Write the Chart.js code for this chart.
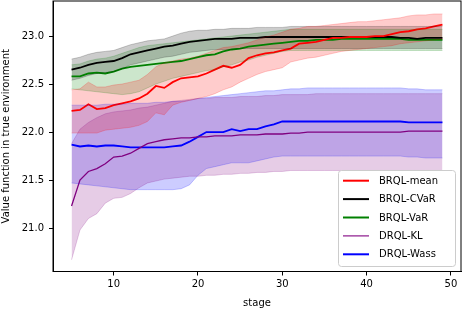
<!DOCTYPE html>
<html>
<head>
<meta charset="utf-8">
<script src="https://cdn.jsdelivr.net/npm/chart.js@4"></script>
<style>
    body { margin: 0; background: #fff; }
    #wrap { width: 462px; height: 310px; position: relative; }
</style>
</head>
<body>
<div id="wrap"><canvas id="chart"></canvas></div>
<script>
// Stages on the x axis
const stages = [5, 6, 7, 8, 9, 10, 11, 12, 13, 14, 15, 16, 17, 18, 19, 20, 21, 22, 23, 24, 25, 26, 27,
    28, 29, 30, 31, 32, 33, 34, 35, 36, 37, 38, 39, 40, 41, 42, 43, 44, 45, 46, 47, 48, 49];

// BRQL-mean
const meanMid = [22.22, 22.23, 22.29, 22.24, 22.25, 22.28, 22.30, 22.32, 22.35, 22.40,
    22.48, 22.46, 22.52, 22.56, 22.57, 22.58, 22.61, 22.65, 22.69, 22.67,
    22.70, 22.77, 22.80, 22.82, 22.83, 22.85, 22.87, 22.92, 22.93, 22.94,
    22.96, 22.98, 22.98, 22.99, 22.99, 22.99, 23.00, 23.00, 23.02, 23.04,
    23.05, 23.07, 23.08, 23.10, 23.12];
const meanHi = [22.44, 22.45, 22.52, 22.47, 22.47, 22.49, 22.50, 22.52, 22.54, 22.60,
    22.68, 22.72, 22.74, 22.76, 22.77, 22.79, 22.82, 22.85, 22.88, 22.89,
    22.91, 22.93, 22.96, 22.99, 23.01, 23.04, 23.07, 23.08, 23.10, 23.10,
    23.11, 23.12, 23.13, 23.14, 23.15, 23.15, 23.16, 23.17, 23.18, 23.19,
    23.21, 23.22, 23.22, 23.23, 23.23];
const meanLo = [21.99, 21.99, 21.99, 21.99, 22.02, 22.03, 22.04, 22.05, 22.07, 22.11,
    22.20, 22.18, 22.28, 22.31, 22.33, 22.35, 22.37, 22.40, 22.44, 22.47,
    22.52, 22.56, 22.60, 22.63, 22.65, 22.67, 22.73, 22.75, 22.77, 22.78,
    22.80, 22.82, 22.84, 22.85, 22.86, 22.87, 22.88, 22.89, 22.90, 22.92,
    22.93, 22.94, 22.95, 22.96, 22.97];

// BRQL-CVaR
const cvarMid = [22.65, 22.67, 22.70, 22.72, 22.73, 22.74, 22.77, 22.81, 22.83, 22.85,
    22.87, 22.89, 22.90, 22.92, 22.94, 22.95, 22.96, 22.97, 22.97, 22.97,
    22.98, 22.98, 22.98, 22.99, 22.99, 22.99, 22.99, 22.99, 22.99, 22.99,
    22.99, 22.99, 22.99, 22.99, 22.99, 22.99, 22.99, 22.99, 22.99, 22.98,
    22.98, 22.97, 22.98, 22.98, 22.98];
const cvarHi = [22.76, 22.78, 22.81, 22.83, 22.84, 22.85, 22.88, 22.91, 22.93, 22.95,
    22.96, 22.97, 23.00, 23.03, 23.05, 23.06, 23.06, 23.07, 23.07, 23.08,
    23.08, 23.08, 23.09, 23.09, 23.09, 23.09, 23.10, 23.10, 23.10, 23.10,
    23.10, 23.10, 23.10, 23.10, 23.10, 23.10, 23.10, 23.10, 23.10, 23.10,
    23.10, 23.10, 23.10, 23.10, 23.10];
const cvarLo = [22.54, 22.56, 22.59, 22.61, 22.62, 22.63, 22.66, 22.70, 22.72, 22.74,
    22.76, 22.78, 22.79, 22.81, 22.83, 22.84, 22.85, 22.86, 22.86, 22.86,
    22.87, 22.87, 22.87, 22.87, 22.87, 22.87, 22.87, 22.87, 22.87, 22.87,
    22.87, 22.87, 22.87, 22.87, 22.87, 22.87, 22.87, 22.87, 22.87, 22.87,
    22.87, 22.87, 22.87, 22.87, 22.87];

// BRQL-VaR
const varMid = [22.58, 22.58, 22.61, 22.62, 22.61, 22.63, 22.66, 22.68, 22.69, 22.70,
    22.71, 22.72, 22.73, 22.74, 22.76, 22.78, 22.80, 22.81, 22.84, 22.86,
    22.87, 22.89, 22.90, 22.91, 22.92, 22.93, 22.94, 22.95, 22.95, 22.96,
    22.96, 22.96, 22.97, 22.97, 22.97, 22.97, 22.97, 22.97, 22.97, 22.97,
    22.96, 22.96, 22.96, 22.96, 22.96];
const varHi = [22.70, 22.71, 22.74, 22.76, 22.77, 22.79, 22.82, 22.85, 22.88, 22.90,
    22.91, 22.92, 22.93, 22.94, 22.95, 22.96, 22.97, 22.98, 22.99, 23.00,
    23.01, 23.02, 23.03, 23.04, 23.05, 23.06, 23.07, 23.07, 23.07, 23.07,
    23.07, 23.07, 23.07, 23.07, 23.07, 23.07, 23.07, 23.07, 23.07, 23.07,
    23.07, 23.07, 23.07, 23.07, 23.07];
const varLo = [22.45, 22.44, 22.43, 22.42, 22.41, 22.40, 22.39, 22.40, 22.42, 22.46,
    22.50, 22.53, 22.56, 22.58, 22.60, 22.62, 22.64, 22.65, 22.68, 22.70,
    22.73, 22.75, 22.78, 22.80, 22.82, 22.84, 22.85, 22.85, 22.85, 22.85,
    22.85, 22.85, 22.85, 22.85, 22.85, 22.85, 22.85, 22.85, 22.85, 22.85,
    22.85, 22.85, 22.85, 22.85, 22.85];

// DRQL-KL
const klMid = [21.23, 21.50, 21.59, 21.62, 21.67, 21.74, 21.75, 21.78, 21.83, 21.88,
    21.90, 21.92, 21.93, 21.94, 21.94, 21.95, 21.95, 21.96, 21.96, 21.96,
    21.97, 21.97, 21.97, 21.98, 21.98, 21.98, 21.99, 21.99, 22.00, 22.00,
    22.00, 22.00, 22.00, 22.00, 22.00, 22.00, 22.00, 22.00, 22.00, 22.00,
    22.01, 22.01, 22.01, 22.01, 22.01];
const klHi = [21.88, 22.03, 22.10, 22.15, 22.19, 22.21, 22.22, 22.23, 22.25, 22.26,
    22.28, 22.30, 22.32, 22.33, 22.34, 22.35, 22.35, 22.36, 22.36, 22.36,
    22.37, 22.37, 22.37, 22.38, 22.38, 22.39, 22.39, 22.39, 22.39, 22.40,
    22.40, 22.40, 22.40, 22.40, 22.40, 22.40, 22.40, 22.40, 22.40, 22.40,
    22.40, 22.40, 22.40, 22.40, 22.40];
const klLo = [20.67, 20.98, 21.10, 21.15, 21.26, 21.31, 21.32, 21.36, 21.42, 21.47,
    21.49, 21.51, 21.52, 21.53, 21.54, 21.54, 21.55, 21.55, 21.56, 21.56,
    21.57, 21.57, 21.58, 21.58, 21.59, 21.59, 21.60, 21.60, 21.60, 21.60,
    21.60, 21.60, 21.60, 21.60, 21.60, 21.60, 21.60, 21.60, 21.60, 21.60,
    21.60, 21.60, 21.60, 21.60, 21.60];

// DRQL-Wass
const wassMid = [21.87, 21.85, 21.86, 21.85, 21.86, 21.86, 21.85, 21.84, 21.84, 21.84,
    21.84, 21.84, 21.85, 21.86, 21.90, 21.95, 22.00, 22.00, 22.00, 22.03,
    22.01, 22.03, 22.03, 22.06, 22.08, 22.11, 22.11, 22.11, 22.11, 22.11,
    22.11, 22.11, 22.11, 22.11, 22.11, 22.11, 22.11, 22.11, 22.11, 22.11,
    22.10, 22.10, 22.10, 22.10, 22.10];
const wassHi = [22.28, 22.28, 22.28, 22.28, 22.29, 22.29, 22.29, 22.30, 22.30, 22.30,
    22.31, 22.31, 22.32, 22.32, 22.33, 22.35, 22.36, 22.37, 22.38, 22.39,
    22.40, 22.41, 22.42, 22.43, 22.43, 22.44, 22.45, 22.45, 22.46, 22.46,
    22.46, 22.46, 22.46, 22.46, 22.46, 22.46, 22.46, 22.46, 22.46, 22.46,
    22.45, 22.45, 22.44, 22.44, 22.44];
const wassLo = [21.47, 21.46, 21.45, 21.44, 21.43, 21.42, 21.41, 21.40, 21.40, 21.40,
    21.40, 21.40, 21.40, 21.41, 21.45, 21.55, 21.62, 21.64, 21.66, 21.68,
    21.68, 21.68, 21.70, 21.72, 21.74, 21.75, 21.75, 21.75, 21.75, 21.75,
    21.75, 21.75, 21.75, 21.75, 21.75, 21.75, 21.75, 21.75, 21.75, 21.75,
    21.74, 21.74, 21.73, 21.73, 21.73];

const xTicks = [10, 20, 30, 40, 50];
const yTicks = [21.0, 21.5, 22.0, 22.5, 23.0];

const series = [
    { label: 'BRQL-mean', mid: meanMid, lo: meanLo, hi: meanHi, rgb: '255,0,0', width: 1.8 },
    { label: 'BRQL-CVaR', mid: cvarMid, lo: cvarLo, hi: cvarHi, rgb: '0,0,0', width: 1.8 },
    { label: 'BRQL-VaR', mid: varMid, lo: varLo, hi: varHi, rgb: '0,128,0', width: 1.8 },
    { label: 'DRQL-KL', mid: klMid, lo: klLo, hi: klHi, rgb: '128,0,128', width: 1.3 },
    { label: 'DRQL-Wass', mid: wassMid, lo: wassLo, hi: wassHi, rgb: '0,0,255', width: 1.8 }
];

document.addEventListener('DOMContentLoaded', function() {
    const font = { family: '"DejaVu Sans", sans-serif', size: 10 };
    const pts = arr => arr.map((v, i) => ({ x: stages[i], y: v }));

    // lower bound, upper bound filled to it, then the lines on top
    const datasets = [];
    series.forEach(s => {
        datasets.push({
            data: pts(s.lo), borderColor: 'rgba(' + s.rgb + ',0.25)', borderWidth: 0.8,
            pointRadius: 0, fill: false
        });
        datasets.push({
            data: pts(s.hi), borderColor: 'rgba(' + s.rgb + ',0.25)', borderWidth: 0.8,
            backgroundColor: 'rgba(' + s.rgb + ',0.2)', pointRadius: 0, fill: '-1'
        });
    });
    series.forEach(s => {
        datasets.push({
            label: s.label, data: pts(s.mid), borderColor: 'rgb(' + s.rgb + ')',
            borderWidth: s.width, pointRadius: 0, fill: false
        });
    });

    // Frame round the plot area, and the legend box inside it
    const framePlugin = {
        id: 'frame',
        afterDraw(chart) {
            const { ctx, chartArea: a } = chart;
            ctx.save();
            ctx.strokeStyle = '#000';
            ctx.lineWidth = 1;
            ctx.strokeRect(a.left, a.top, a.right - a.left, a.bottom - a.top);

            // legend
            const bx = 338, by = 170, bw = 117, bh = 96;
            ctx.beginPath();
            ctx.roundRect(bx + 0.5, by + 0.5, bw, bh, 3);
            ctx.fillStyle = 'rgba(255,255,255,0.8)';
            ctx.fill();
            ctx.strokeStyle = '#cccccc';
            ctx.stroke();
            ctx.font = '10px "DejaVu Sans", sans-serif';
            ctx.textBaseline = 'middle';
            series.forEach((s, i) => {
                const y = 180.7 + i * 18.4;
                ctx.strokeStyle = 'rgb(' + s.rgb + ')';
                ctx.lineWidth = s.width === 1.8 ? 2 : 1.1;
                ctx.beginPath();
                ctx.moveTo(343, y);
                ctx.lineTo(369, y);
                ctx.stroke();
                ctx.fillStyle = '#000';
                ctx.fillText(s.label, 379, y + 0.5);
            });
            ctx.restore();
        }
    };

    new Chart(document.getElementById('chart'), {
        type: 'line',
        data: { datasets: datasets },
        options: {
            responsive: true,
            maintainAspectRatio: false,
            animation: false,
            layout: { padding: { top: 1, right: 1, left: 0, bottom: 0 } },
            plugins: {
                legend: { display: false },
                tooltip: { enabled: false },
                filler: { drawTime: 'beforeDatasetsDraw' }
            },
            scales: {
                x: {
                    type: 'linear', min: 2.8, max: 51.2,
                    afterBuildTicks: axis => { axis.ticks = xTicks.map(v => ({ value: v })); },
                    afterFit: scale => { scale.height = 38.5; scale.paddingLeft = 0; scale.paddingRight = 0; },
                    ticks: { font: font, color: '#000', padding: 3, maxRotation: 0, callback: v => v },
                    grid: { drawOnChartArea: false, drawTicks: true, tickLength: 4, color: '#000' },
                    border: { display: true, color: '#000' },
                    title: { display: true, text: 'stage', font: font, color: '#000', padding: { top: 0, bottom: 1 } }
                },
                y: {
                    min: 20.548, max: 23.365,
                    afterBuildTicks: axis => { axis.ticks = yTicks.map(v => ({ value: v })); },
                    afterFit: scale => { scale.width = 53; scale.paddingTop = 0; scale.paddingBottom = 0; },
                    ticks: { font: font, color: '#000', padding: 5, callback: v => v.toFixed(1) },
                    grid: { drawOnChartArea: false, drawTicks: true, tickLength: 4, color: '#000' },
                    border: { display: true, color: '#000' },
                    title: { display: true, text: 'Value function in true environment', font: font, color: '#000', padding: { top: 0, bottom: 0 } }
                }
            }
        },
        plugins: [framePlugin]
    });
});
</script>
</body>
</html>
